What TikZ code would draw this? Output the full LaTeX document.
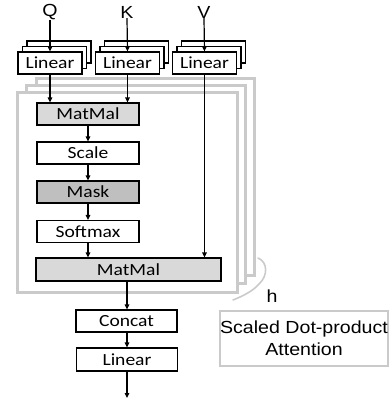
\documentclass[tikz,border=0pt]{standalone}
\usepackage{fontspec}
\setmainfont[FakeStretch=1.15]{Carlito}
\newfontfamily\arialfont[FakeStretch=1.12]{Liberation Sans}
\usetikzlibrary{arrows.meta}
\definecolor{framegray}{HTML}{CACACA}
\definecolor{boxlight}{HTML}{D9D9D9}
\definecolor{boxdark}{HTML}{BFBFBF}
\tikzset{
  blk/.style={draw=black, line width=1.2pt, fill=white, minimum height=22pt,
    inner sep=0pt, font=\fontsize{17}{20}\selectfont},
  lin/.style={blk, minimum width=64pt},
  col/.style={blk, minimum width=102pt},
  lbl/.style={font=\arialfont\fontsize{17.5}{20}\selectfont, inner sep=0pt},
  arr/.style={line width=1.2pt, -{Triangle[length=5pt,width=4.5pt]}},
  frame/.style={draw=framegray, line width=3pt, fill=white},
}
\begin{document}
\begin{tikzpicture}[x=1pt,y=-1pt]
\useasboundingbox (0,0) rectangle (391,402);

% stacked heads of scaled dot-product attention
\draw[frame] (36,78) rectangle (254,275);
\draw[frame] (26,85) rectangle (245,283);
\draw[frame] (17,92) rectangle (237,292);
% brace marking the h heads
\draw[framegray, line width=1.6pt, line cap=round]
  (258,258) .. controls (268,262) and (268,276) .. (259,284)
  .. controls (253,291) and (243,296) .. (233,300);
\node[lbl] (h) at (272,296) {h};

% input labels
\node[lbl] (q) at (50,12) {Q};
\node[lbl] (k) at (127,12) {K};
\node[lbl] (v) at (204,12) {V};

% linear projections, three copies each
\foreach \n/\x in {q/50, k/127.5, v/204.5}{
  \node[lin] (\n3) at (\x+9,52) {};
  \node[lin] (\n2) at (\x+4.5,57.5) {};
  \node[lin] (\n1) at (\x,63) {Linear};
}

% attention column
\node[col, fill=boxlight] (mm1) at (88,114) {MatMal};
\node[col] (scale) at (88,153) {Scale};
\node[col, fill=boxdark] (mask) at (88,192) {Mask};
\node[col] (soft) at (88,231.5) {Softmax};
\node[blk, fill=boxlight, minimum width=185pt, minimum height=23pt] (mm2) at (128.5,269.5) {MatMal};

% output part
\node[blk, minimum width=101pt] (concat) at (126.5,321) {Concat};
\node[blk, minimum width=101pt, minimum height=23pt] (lout) at (127,359.5) {Linear};
\coordinate (out) at (127,398);

\node[draw=framegray, line width=1.6pt, minimum width=168pt, minimum height=55pt,
  align=center, font=\arialfont\fontsize{17.5}{22}\selectfont, inner sep=0pt] (sdpa)
  at (304,338.5) {Scaled Dot-product\\Attention};

% connectors
\draw[arr] (q.south) -- (q1.north);
\draw[arr] (k.south) -- (k1.north);
\draw[arr] (v.south) -- (v1.north);
\draw[arr] (q1.south) -- (q1.south |- mm1.north);
\draw[arr] (k1.south) -- (k1.south |- mm1.north);
\draw[arr] (v1.south) -- (v1.south |- mm2.north);
\draw[arr] (mm1) -- (scale);
\draw[arr] (scale) -- (mask);
\draw[arr] (mask) -- (soft);
\draw[arr] (soft.south) -- (soft.south |- mm2.north);
\draw[arr] (mm2.south -| lout.north) -- (lout.north |- concat.north);
\draw[arr] (concat.south -| lout.north) -- (lout.north);
\draw[arr] (lout.south) -- (out);
\end{tikzpicture}
\end{document}
